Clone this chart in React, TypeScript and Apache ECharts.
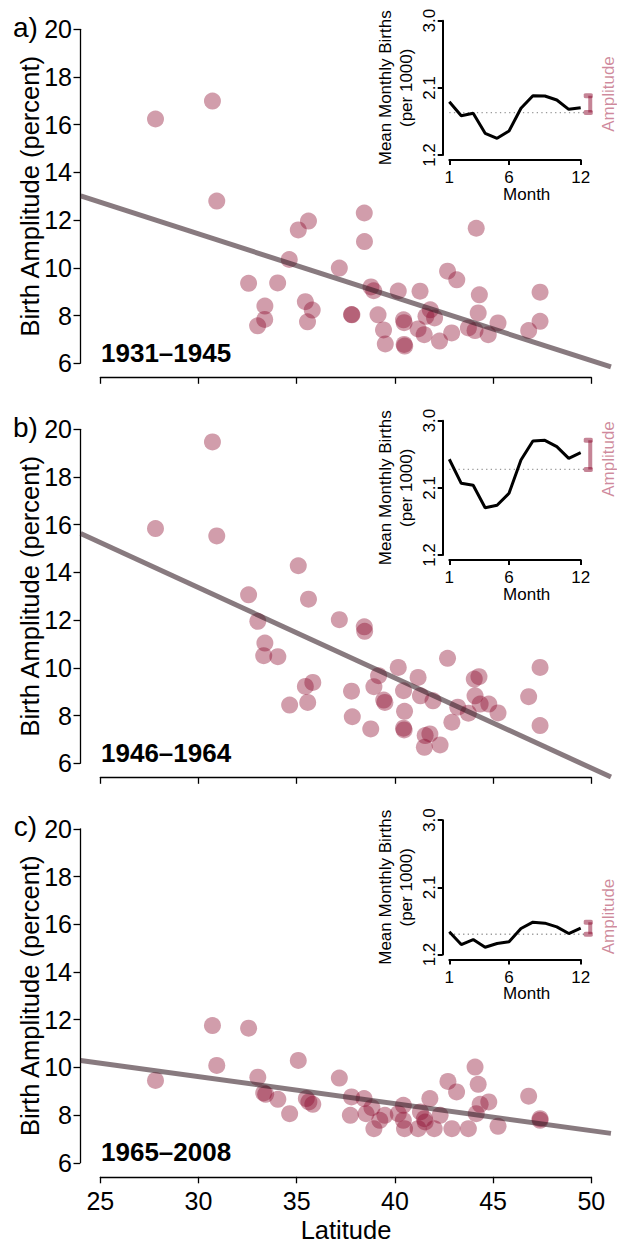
import React, { useEffect, useRef } from "react";
import * as echarts from "echarts";

// ---------- DATA ----------
const periods = ["1931–1945", "1946–1964", "1965–2008"];
const panelLetters = ["a)", "b)", "c)"];

const latA = [27.81, 30.71, 30.93, 32.55, 34.03, 33.38, 33.37, 33.01, 34.62, 35.08, 35.6, 35.44, 35.79, 35.55, 37.17, 37.79, 37.81, 38.44, 38.45, 38.78, 38.92, 39.14, 39.42, 39.51, 40.17, 40.44, 40.47, 40.47, 40.5, 41.28, 41.18, 41.49, 41.58, 41.8, 42.02, 42.27, 42.68, 42.89, 43.15, 43.74, 44.08, 44.14, 44.24, 44.3, 44.75, 45.25, 46.81, 47.39, 47.39];
const ampA = [16.24, 16.99, 12.8, 9.35, 9.37, 8.4, 7.84, 7.57, 10.35, 11.59, 11.96, 8.58, 8.23, 7.74, 9.99, 8.04, 8.03, 12.3, 11.1, 9.2, 9.04, 8.03, 7.4, 6.81, 9.03, 7.82, 7.7, 6.79, 6.72, 9.02, 7.44, 7.2, 7.97, 8.24, 7.9, 6.93, 9.86, 7.27, 9.5, 7.48, 7.37, 11.66, 8.11, 8.87, 7.2, 7.69, 7.37, 8.98, 7.76];

const latB = [27.81, 30.71, 30.93, 32.55, 33.02, 33.38, 33.32, 34.04, 35.08, 35.6, 34.64, 35.44, 35.82, 35.56, 37.17, 37.79, 37.83, 38.44, 38.46, 38.77, 39.17, 38.93, 39.43, 39.49, 40.17, 40.44, 40.49, 40.44, 40.47, 41.18, 41.3, 41.5, 41.54, 41.78, 41.94, 42.3, 42.68, 42.9, 43.2, 43.74, 44.08, 44.04, 44.28, 44.34, 44.78, 45.25, 46.81, 47.39, 47.39];
const ampB = [15.84, 19.47, 15.53, 13.06, 11.95, 11.04, 10.51, 10.47, 14.28, 12.88, 8.44, 9.22, 9.39, 8.55, 12.02, 9.02, 7.95, 11.72, 11.53, 7.44, 9.67, 9.21, 8.65, 8.55, 10.02, 9.04, 8.18, 7.47, 7.4, 9.6, 8.83, 6.67, 7.16, 7.23, 8.62, 6.77, 10.4, 7.72, 8.35, 8.1, 8.83, 9.53, 9.63, 8.48, 8.48, 8.11, 8.79, 10.02, 7.58];

const latC = [27.81, 30.71, 30.93, 32.55, 33.02, 33.32, 33.42, 34.04, 34.64, 35.08, 35.49, 35.62, 35.82, 37.17, 37.79, 37.73, 38.43, 38.53, 38.83, 38.93, 39.23, 39.49, 40.17, 40.43, 40.43, 40.49, 41.18, 41.3, 41.5, 41.54, 41.78, 42.0, 42.3, 42.7, 42.9, 43.14, 43.74, 44.08, 44.24, 44.14, 44.34, 44.78, 45.25, 46.81, 47.39, 47.39];
const ampC = [9.45, 11.75, 10.08, 11.64, 9.59, 8.93, 8.87, 8.66, 8.06, 10.29, 8.69, 8.55, 8.45, 9.55, 8.76, 7.99, 8.69, 8.06, 8.31, 7.43, 7.78, 7.99, 8.06, 8.41, 7.78, 7.43, 7.43, 8.13, 7.85, 7.71, 8.69, 7.43, 7.99, 9.41, 7.43, 8.97, 7.43, 10.01, 9.29, 8.06, 8.45, 8.55, 7.53, 8.79, 7.85, 7.78];

// regression fits (intercept, slope) per period
const fitIntercepts = [19.39, 24.7, 13.01];
const fitSlopes = [-0.2656, -0.378, -0.1133];

// inset: mean monthly births (per 1000)
const months = [1, 2, 3, 4, 5, 6, 7, 8, 9, 10, 11, 12];
const birthsA = [1.914, 1.727, 1.759, 1.491, 1.424, 1.522, 1.826, 1.995, 1.991, 1.937, 1.812, 1.834];
const birthsB = [2.483, 2.161, 2.134, 1.834, 1.866, 2.027, 2.474, 2.728, 2.737, 2.652, 2.496, 2.571];
const birthsC = [1.504, 1.334, 1.401, 1.298, 1.347, 1.37, 1.549, 1.633, 1.62, 1.571, 1.481, 1.553];

const latTicks = [25, 30, 35, 40, 45, 50];
const monthTicks = [1, 6, 12];
const birthTicks = [1.2, 2.1, 3.0];

const lats = [latA, latB, latC];
const amps = [ampA, ampB, ampC];
const births = [birthsA, birthsB, birthsC];

// ---------- LAYOUT ----------
const FONT = "'Liberation Sans', Arial, Helvetica, sans-serif";
const OFFSETS = [0, 400, 799.5];
const AMP_LABEL_Y = [94, 59, 117];
const POINT_COLOR = "rgba(140,10,45,0.5)";
const FIT_COLOR = "rgba(50,25,35,0.58)";
const BRACKET_X = 12.8;

function buildOption() {
  const grid: any[] = [];
  const xAxis: any[] = [];
  const yAxis: any[] = [];
  const series: any[] = [];
  const graphic: any[] = [];

  const axisLine = (w: number) => ({ show: true, lineStyle: { color: "#000", width: w } });

  for (let i = 0; i < 3; i++) {
    const oy = OFFSETS[i];
    const base = i * 4;
    // main axis grid (lat 25..50, amp 6..20)
    grid.push({ left: 100.3, top: 29.3 + oy, width: 491, height: 334, outerBoundsMode: "none" });
    // main data grid (lat 24..51, amp 5.44..20.56)
    grid.push({ left: 80.66, top: 15.94 + oy, width: 530.3, height: 360.7, outerBoundsMode: "none" });
    // inset axis grid (month 1..12, births 1.2..3.0)
    grid.push({ left: 449.3, top: 20.7 + oy, width: 131.4, height: 134.3, outerBoundsMode: "none" });
    // inset data grid (month 0.5..13, births 1.128..3.072)
    grid.push({ left: 443.33, top: 15.33 + oy, width: 149.3, height: 145.05, outerBoundsMode: "none" });

    xAxis.push({
      type: "value", gridIndex: base, min: 25, max: 50, interval: 5, position: "bottom", offset: 14,
      axisLine: axisLine(1.3),
      axisTick: { show: true, length: 6.5, lineStyle: { color: "#000", width: 1.3 }, customValues: latTicks },
      axisLabel: { show: i === 2, fontSize: 25, color: "#000", margin: 12, fontFamily: FONT, customValues: latTicks },
      splitLine: { show: false },
    });
    yAxis.push({
      type: "value", gridIndex: base, min: 6, max: 20, interval: 2, position: "left", offset: 20.3,
      axisLine: axisLine(1.3),
      axisTick: { show: true, length: 6.5, lineStyle: { color: "#000", width: 1.3 } },
      axisLabel: { fontSize: 25, color: "#000", margin: 8, fontFamily: FONT },
      splitLine: { show: false },
    });
    xAxis.push({ type: "value", gridIndex: base + 1, min: 24, max: 51, show: false, splitLine: { show: false } });
    yAxis.push({ type: "value", gridIndex: base + 1, min: 5.44, max: 20.56, show: false, splitLine: { show: false } });

    xAxis.push({
      type: "value", gridIndex: base + 2, min: 1, max: 12, position: "bottom", offset: 5,
      axisLine: axisLine(2),
      axisTick: { show: true, length: 5, lineStyle: { color: "#000", width: 2 }, customValues: monthTicks },
      axisLabel: { fontSize: 17, color: "#000", margin: 9, fontFamily: FONT, customValues: monthTicks },
      splitLine: { show: false },
    });
    yAxis.push({
      type: "value", gridIndex: base + 2, min: 1.2, max: 3.0, position: "left", offset: 6.6,
      axisLine: axisLine(2),
      axisTick: { show: true, length: 5, lineStyle: { color: "#000", width: 2 }, customValues: birthTicks },
      axisLabel: {
        fontSize: 17, color: "#000", margin: 5, rotate: 90, fontFamily: FONT, customValues: birthTicks,
        formatter: (v: number) => v.toFixed(1),
      },
      splitLine: { show: false },
    });
    xAxis.push({ type: "value", gridIndex: base + 3, min: 0.5, max: 13, show: false, splitLine: { show: false } });
    yAxis.push({ type: "value", gridIndex: base + 3, min: 1.128, max: 3.072, show: false, splitLine: { show: false } });

    // scatter
    series.push({
      type: "scatter", xAxisIndex: base + 1, yAxisIndex: base + 1,
      data: lats[i].map((la, k) => [la, amps[i][k]]),
      symbolSize: 17, itemStyle: { color: POINT_COLOR, borderWidth: 0 },
      silent: true,
    });
    // fit line
    const a = fitIntercepts[i], b = fitSlopes[i];
    series.push({
      type: "line", xAxisIndex: base + 1, yAxisIndex: base + 1,
      data: [[24, a + b * 24], [51, a + b * 51]],
      symbol: "none", lineStyle: { color: FIT_COLOR, width: 5 }, clip: true, silent: true,
    });

    // inset
    const bs = births[i];
    const mean = bs.reduce((s, v) => s + v, 0) / bs.length;
    const mx = Math.max(...bs);
    series.push({
      type: "line", xAxisIndex: base + 3, yAxisIndex: base + 3,
      data: [[1, mean], [12.45, mean]],
      symbol: "none", lineStyle: { color: "#9a9a9a", width: 1.3, type: [1.3, 3.3] }, silent: true,
    });
    series.push({
      type: "line", xAxisIndex: base + 3, yAxisIndex: base + 3,
      data: months.map((m, k) => [m, bs[k]]),
      symbol: "none", lineStyle: { color: "#000", width: 3 }, silent: true,
    });
    series.push({
      type: "line", xAxisIndex: base + 3, yAxisIndex: base + 3,
      data: [[BRACKET_X, mean], [BRACKET_X, mx]],
      symbol: "roundRect", symbolSize: [9, 5], symbolOffset: [-2, 0], showSymbol: true,
      itemStyle: { color: POINT_COLOR }, lineStyle: { color: POINT_COLOR, width: 4 }, silent: true,
    });

    // texts
    graphic.push({
      type: "text", x: 25.5, y: 27 + oy,
      style: { text: panelLetters[i], fontSize: 28, fill: "#000", align: "center", verticalAlign: "middle", fontFamily: FONT },
    });
    graphic.push({
      type: "text", x: 30, y: 196.3 + oy, rotation: Math.PI / 2,
      style: { text: "Birth Amplitude (percent)", fontSize: 25.5, fill: "#000", align: "center", verticalAlign: "middle", fontFamily: FONT },
    });
    graphic.push({
      type: "text", x: 101, y: 352.5 + oy,
      style: { text: periods[i], fontSize: 26, fontWeight: "bold", fill: "#000", align: "left", verticalAlign: "middle", fontFamily: FONT },
    });
    graphic.push({
      type: "text", x: 385.7, y: 87.8 + oy, rotation: Math.PI / 2,
      style: { text: "Mean Monthly Births", fontSize: 17, fill: "#000", align: "center", verticalAlign: "middle", fontFamily: FONT },
    });
    graphic.push({
      type: "text", x: 406.7, y: 87.8 + oy, rotation: Math.PI / 2,
      style: { text: "(per 1000)", fontSize: 17, fill: "#000", align: "center", verticalAlign: "middle", fontFamily: FONT },
    });
    graphic.push({
      type: "text", x: 526.7, y: 194.3 + oy,
      style: { text: "Month", fontSize: 17, fill: "#000", align: "center", verticalAlign: "middle", fontFamily: FONT },
    });
    graphic.push({
      type: "text", x: 608.3, y: AMP_LABEL_Y[i] + oy, rotation: Math.PI / 2,
      style: { text: "Amplitude", fontSize: 17, fill: "rgba(160,20,60,0.5)", align: "center", verticalAlign: "middle", fontFamily: FONT },
    });
  }

  graphic.push({
    type: "text", x: 346, y: 1230,
    style: { text: "Latitude", fontSize: 25.5, fill: "#000", align: "center", verticalAlign: "middle", fontFamily: FONT },
  });

  return {
    animation: false,
    backgroundColor: "#fff",
    textStyle: { fontFamily: FONT },
    grid, xAxis, yAxis, series, graphic,
  };
}

export default function App() {
  const ref = useRef<HTMLDivElement>(null);
  useEffect(() => {
    document.body.style.margin = "0";
    if (!ref.current) return;
    const chart = echarts.init(ref.current, undefined, { renderer: "svg" });
    chart.setOption(buildOption() as any);
    return () => chart.dispose();
  }, []);
  return <div ref={ref} style={{ width: 617, height: 1243 }} />;
}
